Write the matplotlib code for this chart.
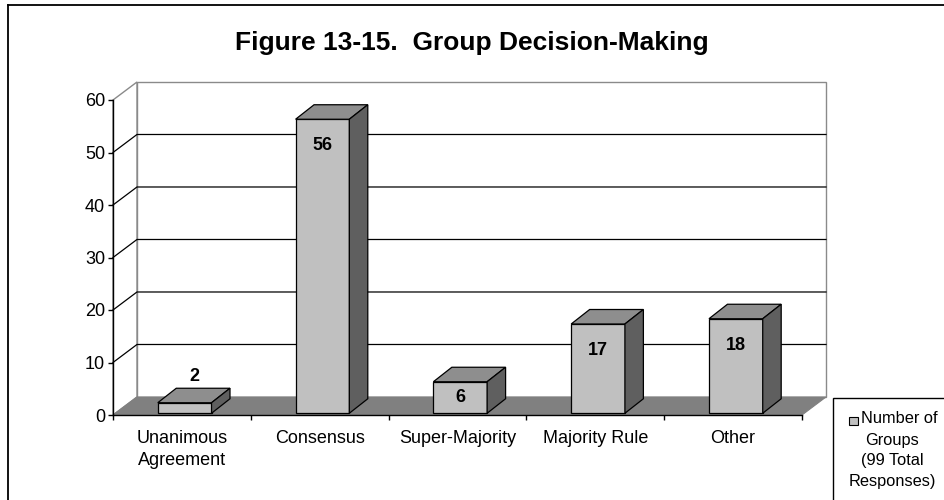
import matplotlib.pyplot as plt
from matplotlib.patches import Polygon, Rectangle
from matplotlib.lines import Line2D

plt.rcParams['font.family'] = ['Liberation Sans', 'DejaVu Sans']

#categories and counts
categories = ['Unanimous\nAgreement', 'Consensus', 'Super-Majority', 'Majority Rule', 'Other']
counts = [2, 56, 6, 17, 18]
y_ticks = [0, 10, 20, 30, 40, 50, 60]

title = 'Figure 13-15.  Group Decision-Making'
legend_lines = ['Number of', 'Groups', '(99 Total', 'Responses)']

#colours of the 3d boxes
FRONT = '#c0c0c0'
TOP = '#8e8e8e'
SIDE = '#5f5f5f'
FLOOR = '#808080'
WALL_EDGE = '#8a8a8a'

W, H = 944, 500

#depth of the walls and of the bars, in data units (x = categories, y = value)
WALL_DX, WALL_DY = 0.174, 3.43
BAR_DX, BAR_DY = 0.134, 2.76
BAR_W = 0.39


def box(ax, x0, v):
    #front face is pushed a little into the room so the bar sits mid-depth
    ox = (WALL_DX - BAR_DX) / 2
    oy = (WALL_DY - BAR_DY) / 2
    l, r = x0 - BAR_W / 2 + ox, x0 + BAR_W / 2 + ox
    b, t = oy, v + oy
    front = Rectangle((l, b), BAR_W, v, facecolor=FRONT, edgecolor='black', lw=0.9, zorder=5)
    top = Polygon([(l, t), (r, t), (r + BAR_DX, t + BAR_DY), (l + BAR_DX, t + BAR_DY)],
                  closed=True, facecolor=TOP, edgecolor='black', lw=0.9, zorder=5)
    side = Polygon([(r, b), (r + BAR_DX, b + BAR_DY), (r + BAR_DX, t + BAR_DY), (r, t)],
                   closed=True, facecolor=SIDE, edgecolor='black', lw=0.9, zorder=5)
    for p in (front, top, side):
        p.set_clip_on(False)
        ax.add_patch(p)
    return l, r, t


def graph():
    fig = plt.figure(figsize=(W / 100, H / 100), dpi=100)
    ax = fig.add_axes([113 / W, 85 / H, 689 / W, 315 / H])
    n = len(categories)
    ax.set_xlim(0, n)
    ax.set_ylim(0, 60)
    ax.patch.set_alpha(0)

    #back wall and left wall
    back = Rectangle((WALL_DX, WALL_DY), n, 60, facecolor='white', edgecolor=WALL_EDGE, lw=1, zorder=1)
    left = Polygon([(0, 0), (0, 60), (WALL_DX, 60 + WALL_DY), (WALL_DX, WALL_DY)],
                   closed=True, facecolor='white', edgecolor=WALL_EDGE, lw=1, zorder=1)
    for p in (back, left):
        p.set_clip_on(False)
        ax.add_patch(p)

    #gridlines run across the left wall then along the back wall
    for yv in y_ticks[1:-1]:
        ax.add_line(Line2D([0, WALL_DX, n + WALL_DX], [yv, yv + WALL_DY, yv + WALL_DY],
                           color='black', lw=0.9, zorder=2, clip_on=False))

    floor = Polygon([(0, 0), (n, 0), (n + WALL_DX, WALL_DY), (WALL_DX, WALL_DY)],
                    closed=True, facecolor=FLOOR, edgecolor=FLOOR, lw=0.8, zorder=3, clip_on=False)
    ax.add_patch(floor)

    for i, v in enumerate(counts):
        l, r, t = box(ax, i + 0.5, v)
        cx = (l + r) / 2
        if v >= 10:
            ax.annotate(str(v), (cx, t), xytext=(0, -19), textcoords='offset points',
                        ha='center', va='center', fontsize=13, fontweight='bold', zorder=6)
        elif v >= 5:
            ax.text(cx, t / 2 + (WALL_DY - BAR_DY) / 4, str(v), ha='center', va='center',
                    fontsize=13, fontweight='bold', zorder=6)
        else:
            ax.annotate(str(v), (cx + BAR_DX / 2, t), xytext=(0, 19), textcoords='offset points',
                        ha='center', va='center', fontsize=13, fontweight='bold', zorder=6)

    for s in ('top', 'right'):
        ax.spines[s].set_visible(False)
    ax.spines['left'].set_zorder(4)
    ax.spines['bottom'].set_zorder(4)
    ax.spines['left'].set_linewidth(1)
    ax.spines['bottom'].set_linewidth(1)

    ax.set_yticks(y_ticks)
    ax.tick_params(axis='y', direction='out', length=3.6, width=1, pad=2, labelsize=13)
    ax.set_xticks(range(n + 1))
    ax.set_xticklabels([])
    ax.set_xticks([i + 0.5 for i in range(n)], minor=True)
    ax.set_xticklabels(categories, minor=True, fontsize=13, linespacing=1.38)
    ax.tick_params(axis='x', which='major', direction='out', length=3.6, width=1)
    ax.tick_params(axis='x', which='minor', length=0, pad=11)

    fig.text(471.5 / W, 1 - 43 / H, title, ha='center', va='center', fontsize=19, fontweight='bold')

    #outer chart border (top and left edges fall inside the picture)
    fig.add_artist(Line2D([8 / W, 1], [1 - 5 / H, 1 - 5 / H], color='black', lw=1.3))
    fig.add_artist(Line2D([8 / W, 8 / W], [0, 1 - 5 / H], color='black', lw=1.3))

    #legend box, runs off the bottom right corner
    fig.add_artist(Rectangle((833 / W, -0.1), 0.3, 0.1 + 1 - 398 / H, transform=fig.transFigure,
                             facecolor='white', edgecolor='black', lw=1))
    fig.add_artist(Rectangle((849 / W, 1 - 425 / H), 9 / W, 8 / H, transform=fig.transFigure,
                             facecolor=FRONT, edgecolor='black', lw=0.8))
    fig.text(861 / W, 1 - 423 / H, legend_lines[0], ha='left', va='baseline', fontsize=11.8)
    for txt, base in zip(legend_lines[1:], [445, 465, 486]):
        fig.text(892 / W, 1 - base / H, txt, ha='center', va='baseline', fontsize=11.8)

    fig.savefig('out.png', dpi=100)


if __name__ == '__main__':
    graph()
